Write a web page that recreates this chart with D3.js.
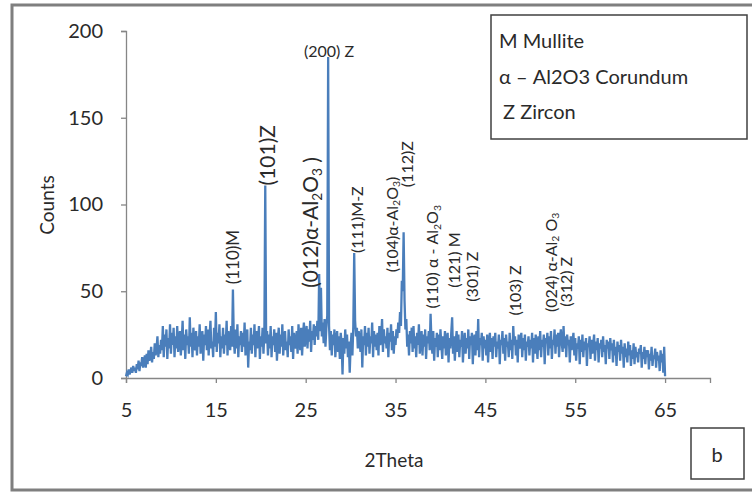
<!DOCTYPE html>
<html>
<head>
<meta charset="utf-8">
<script src="https://cdn.jsdelivr.net/npm/d3@7/dist/d3.min.js"></script>
<style>
  body { margin: 0; background: #fff; }
  text { font-family: Lato, "Open Sans", sans-serif; fill: #2a2a2a; }
</style>
</head>
<body>
<svg id="chart" width="752" height="492"></svg>
<script>
// XRD scan: 2θ from 5° to 65° in 0.1° steps
const thetaStart = 5;
const thetaStep = 0.1;
const counts = [
  1, 3, 2, 5, 2, 4, 6, 3, 7, 4,            // 5°
  6, 3, 8, 5, 10, 4, 9, 7, 12, 6,          // 6°
  9, 13, 6, 14, 8, 16, 10, 12, 18, 9,      // 7°
  15, 11, 20, 13, 17, 24, 12, 19, 14, 22,  // 8°
  16, 30, 12, 25, 18, 28, 11, 23, 17, 31,  // 9°
  14, 26, 19, 29, 12, 24, 17, 30, 15, 22,  // 10°
  27, 13, 21, 33, 16, 25, 11, 28, 19, 24,  // 11°
  14, 35, 18, 26, 12, 29, 20, 16, 27, 13,  // 12°
  24, 18, 31, 14, 22, 27, 10, 25, 19, 30,  // 13°
  16, 28, 13, 24, 33, 17, 21, 12, 29, 18,  // 14°
  38, 15, 26, 20, 31, 12, 24, 17, 29, 14,  // 15°
  25, 19, 33, 13, 27, 21, 16, 30, 18, 51,  // 16°
  22, 14, 28, 17, 31, 12, 24, 19, 27, 15,  // 17°
  26, 18, 32, 13, 23, 28, 6, 21, 16, 29,   // 18°
  14, 25, 19, 31, 12, 27, 17, 22, 30, 11,  // 19°
  24, 18, 29, 14, 26, 111, 20, 27, 13, 25, // 20°
  17, 30, 12, 24, 19, 28, 15, 26, 10, 22,  // 21°
  29, 14, 25, 18, 31, 13, 23, 27, 16, 21,  // 22°
  12, 28, 19, 24, 15, 30, 11, 26, 20, 17,  // 23°
  27, 14, 31, 21, 16, 29, 13, 25, 32, 18,  // 24°
  24, 30, 17, 28, 21, 33, 15, 27, 22, 31,  // 25°
  19, 30, 24, 33, 22, 60, 27, 52, 24, 32,  // 26°
  20, 34, 18, 29, 36, 185, 30, 16, 27, 13, // 27°
  25, 19, 28, 12, 22, 27, 15, 24, 11, 26,  // 28°
  20, 2, 23, 14, 28, 17, 25, 12, 21, 3,    // 29°
  18, 26, 13, 30, 72, 33, 24, 29, 17, 27,  // 30°
  21, 15, 28, 6, 24, 19, 30, 13, 26, 18,   // 31°
  29, 14, 24, 20, 32, 12, 27, 18, 25, 16,  // 32°
  26, 13, 30, 19, 23, 34, 15, 28, 20, 24,  // 33°
  17, 29, 12, 26, 21, 31, 16, 27, 14, 24,  // 34°
  19, 28, 23, 32, 26, 38, 30, 56, 50, 84,  // 35°
  45, 28, 34, 18, 25, 13, 27, 20, 29, 15,  // 36°
  30, 17, 24, 12, 26, 19, 31, 14, 22, 27,  // 37°
  13, 25, 18, 28, 11, 24, 20, 27, 16, 37,  // 38°
  21, 14, 27, 10, 23, 18, 26, 12, 25, 16,  // 39°
  28, 19, 11, 24, 17, 27, 13, 22, 26, 9,   // 40°
  23, 17, 26, 35, 14, 24, 10, 21, 27, 15,  // 41°
  25, 12, 22, 18, 27, 9, 20, 26, 14, 23,   // 42°
  17, 28, 11, 24, 19, 26, 8, 22, 25, 13,   // 43°
  27, 16, 34, 12, 23, 19, 26, 10, 24, 17,  // 44°
  22, 13, 25, 9, 20, 26, 15, 23, 11, 24,   // 45°
  18, 26, 12, 21, 17, 25, 8, 22, 19, 27,   // 46°
  14, 23, 10, 25, 18, 21, 12, 26, 16, 22,  // 47°
  11, 30, 19, 24, 13, 22, 9, 25, 17, 21,   // 48°
  26, 12, 23, 16, 25, 10, 21, 18, 24, 13,  // 49°
  22, 17, 26, 9, 23, 14, 25, 19, 11, 24,   // 50°
  16, 27, 12, 22, 18, 25, 8, 23, 20, 26,   // 51°
  13, 24, 17, 27, 11, 22, 19, 28, 14, 25,  // 52°
  18, 26, 12, 23, 28, 20, 15, 30, 17, 24,  // 53°
  12, 25, 19, 22, 9, 24, 16, 21, 26, 13,   // 54°
  23, 10, 20, 17, 24, 8, 22, 15, 25, 12,   // 55°
  21, 16, 23, 7, 20, 18, 24, 11, 22, 14,   // 56°
  19, 25, 10, 21, 16, 23, 9, 20, 17, 22,   // 57°
  12, 24, 15, 19, 8, 22, 17, 21, 11, 23,   // 58°
  16, 20, 9, 22, 13, 18, 7, 21, 15, 19,    // 59°
  10, 22, 14, 18, 6, 20, 12, 17, 9, 21,    // 60°
  13, 19, 7, 16, 11, 20, 8, 18, 12, 15,    // 61°
  9, 17, 14, 19, 6, 15, 11, 18, 8, 16,     // 62°
  12, 16, 5, 14, 10, 18, 7, 13, 11, 17,    // 63°
  6, 15, 10, 13, 4, 16, 9, 14, 3, 18,      // 64°
  1                                        // 65°
];

const xTicks = [5, 15, 25, 35, 45, 55, 65];
const yTicks = [0, 50, 100, 150, 200];

const legendItems = ["M Mullite", "α – Al2O3 Corundum", "Z Zircon"];

// Phase labels: "_n" marks a subscript digit; anchored at (2θ, counts)
const peakLabels = [
  { text: "(110)M",             theta: 16.9, at: 54,  size: 17, rotate: true },
  { text: "(101)Z",             theta: 20.8, at: 111, size: 21, rotate: true },
  { text: "(012)α-Al_2O_3 )",   theta: 25.6, at: 52,  size: 21, rotate: true },
  { text: "(200) Z",            theta: 27.6, at: 188, size: 16, rotate: false },
  { text: "(111)M-Z",           theta: 30.7, at: 72,  size: 16, rotate: true },
  { text: "(104)α-Al_2O_3)",    theta: 34.6, at: 61,  size: 16, rotate: true },
  { text: "(112)Z",             theta: 36.3, at: 110, size: 16, rotate: true },
  { text: "(110) α - Al_2O_3",  theta: 39.1, at: 40,  size: 16, rotate: true },
  { text: "(121) M",            theta: 41.6, at: 52,  size: 16, rotate: true },
  { text: "(301) Z",            theta: 43.5, at: 44,  size: 16, rotate: true },
  { text: "(103) Z",            theta: 48.3, at: 36,  size: 16, rotate: true },
  { text: "(024) α-Al_2 O_3",   theta: 52.3, at: 38,  size: 16, rotate: true },
  { text: "(312) Z",            theta: 54.0, at: 41,  size: 16, rotate: true }
];

const svg = d3.select("#chart");

// outer chart frame
svg.append("rect")
  .attr("x", 12).attr("y", 5).attr("width", 750).attr("height", 485)
  .attr("fill", "#fff").attr("stroke", "#7f7f7f").attr("stroke-width", 3);

const x = d3.scaleLinear().domain([5, 70]).range([126, 710]);
const y = d3.scaleLinear().domain([0, 200]).range([378, 31]);

const axisColor = "#868686";

// y axis
const gy = svg.append("g").attr("transform", `translate(${x(5)},0)`)
  .call(d3.axisLeft(y).tickValues(yTicks).tickSize(5).tickPadding(18));
// x axis
const gx = svg.append("g").attr("transform", `translate(0,${y(0)})`)
  .call(d3.axisBottom(x).tickValues(xTicks).tickSize(5).tickPadding(20));

[gx, gy].forEach(g => {
  g.select(".domain").attr("stroke", axisColor).attr("stroke-width", 1.3);
  g.selectAll(".tick line").attr("stroke", axisColor).attr("stroke-width", 1.3);
  g.selectAll(".tick text").attr("font-size", 20).attr("fill", "#2a2a2a")
    .style("font-family", "Lato, 'Open Sans', sans-serif");
});

// the scan trace
const line = d3.line()
  .x((d, i) => x(thetaStart + i * thetaStep))
  .y(d => y(d));
svg.append("path")
  .datum(counts)
  .attr("d", line)
  .attr("fill", "none")
  .attr("stroke", "#4a7ebb")
  .attr("stroke-width", 2.3)
  .attr("stroke-linejoin", "miter");

// axis titles
svg.append("text")
  .attr("transform", `translate(54,205) rotate(-90)`)
  .attr("text-anchor", "middle").attr("font-size", 19)
  .text("Counts");
svg.append("text")
  .attr("x", 394).attr("y", 467)
  .attr("text-anchor", "middle").attr("font-size", 19)
  .text("2Theta");

// phase labels, subscripts lowered and the following run raised back
function writeLabel(sel, str) {
  let raise = false;
  str.split(/(_\d)/).filter(s => s.length).forEach(part => {
    if (part[0] === "_") {
      sel.append("tspan").attr("font-size", "0.65em")
        .attr("dy", raise ? "0em" : "0.25em").text(part[1]);
      raise = true;
    } else {
      const ts = sel.append("tspan").text(part);
      if (raise) ts.attr("dy", "-0.16em");
      raise = false;
    }
  });
}
peakLabels.forEach(p => {
  const g = svg.append("g")
    .attr("transform", p.rotate
      ? `translate(${x(p.theta)},${y(p.at)}) rotate(-90)`
      : `translate(${x(p.theta)},${y(p.at)})`);
  const t = g.append("text")
    .attr("font-size", p.size)
    .attr("text-anchor", p.rotate ? "start" : "middle")
    .attr("dy", "0.35em");
  writeLabel(t, p.text);
});

// legend box
const lg = svg.append("g");
lg.append("rect")
  .attr("x", 491).attr("y", 15).attr("width", 256).attr("height", 124)
  .attr("fill", "#fff").attr("stroke", "#404040").attr("stroke-width", 1.5);
lg.selectAll("text.legend").data(legendItems).join("text")
  .attr("class", "legend")
  .attr("x", (d, i) => i === 2 ? 503 : 499)
  .attr("y", (d, i) => 48 + i * 35.5)
  .attr("font-size", 20)
  .text(d => d);

// panel tag
svg.append("rect")
  .attr("x", 691).attr("y", 428).attr("width", 53).attr("height", 51)
  .attr("fill", "#fff").attr("stroke", "#404040").attr("stroke-width", 1.5);
svg.append("text")
  .attr("x", 717).attr("y", 462).attr("text-anchor", "middle")
  .attr("font-size", 20).text("b");
</script>
</body>
</html>
